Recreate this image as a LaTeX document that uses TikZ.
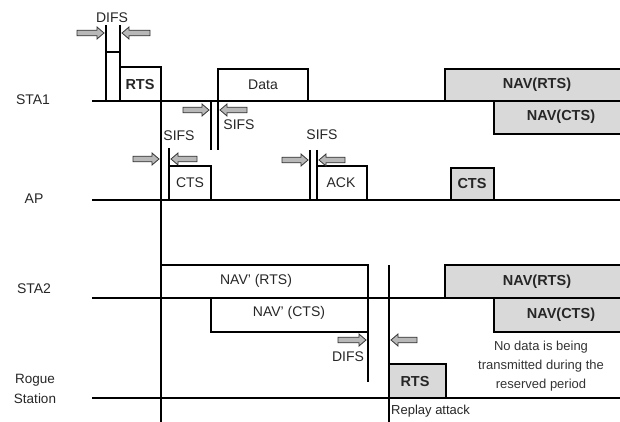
\documentclass[tikz,border=0pt]{standalone}
\usepackage{fontspec}
\setmainfont{Liberation Sans}
\begin{document}
\begin{tikzpicture}[x=1pt,y=-1pt,
  tl/.style={line width=1.6pt},
  vl/.style={line width=1.3pt},
  box/.style={draw, line width=1.3pt, anchor=north west, inner sep=0pt, outer sep=0pt},
  gbox/.style={box, fill=navgray},
  lbl/.style={font=\fontsize{14}{14}\selectfont, text=black!85, inner sep=0pt},
  blbl/.style={font=\fontsize{14.5}{14.5}\selectfont\bfseries, text=black!85, inner sep=0pt},
  small/.style={font=\fontsize{13}{19}\selectfont, text=black!80, inner sep=0pt, align=center},
]
\definecolor{navgray}{HTML}{D9D9D9}
\definecolor{arrgray}{HTML}{B8B8B8}
\newcommand{\blkarr}[3]{%
  \pgfmathsetmacro\dd{(#2>#1)?1:-1}%
  \filldraw[fill=arrgray, draw=black!80, line width=0.8pt]
    (#1,#3-2.8) -- ({#2-\dd*7},#3-2.8) -- ({#2-\dd*7},#3-6) -- (#2,#3)
    -- ({#2-\dd*7},#3+6) -- ({#2-\dd*7},#3+2.8) -- (#1,#3+2.8) -- cycle;}
\useasboundingbox (0,0) rectangle (620,422);

% station labels
\node[lbl] (sta1) at (33,100) {STA1};
\node[lbl] (ap) at (34,199) {AP};
\node[lbl] (sta2) at (34,289) {STA2};
\node[lbl, align=center, font=\fontsize{13.5}{20}\selectfont] (rogue) at (35,389) {Rogue\\Station};

% gray NAV boxes (drawn first, timelines on top)
\node[gbox, minimum width=180pt, minimum height=32pt] (nr1) at (445,69) {};
\node[blbl] at (537,85) {NAV(RTS)};
\node[gbox, minimum width=130pt, minimum height=33pt] (nc1) at (494,101) {};
\node[blbl] at (561,117) {NAV(CTS)};
\node[gbox, minimum width=180pt, minimum height=33pt] (nr2) at (445,265) {};
\node[blbl] at (537,282) {NAV(RTS)};
\node[gbox, minimum width=130pt, minimum height=34pt] (nc2) at (494,298) {};
\node[blbl] at (561,315) {NAV(CTS)};

% white boxes
\node[box, minimum width=41pt, minimum height=34pt] (rts1) at (120,67) {};
\node[blbl] at (140,85) {RTS};
\node[box, minimum width=90pt, minimum height=32pt] (data) at (218,69) {};
\node[lbl] at (263,85) {Data};
\node[box, minimum width=42pt, minimum height=34pt] (cts1) at (169,166) {};
\node[lbl] at (190,183) {CTS};
\node[box, minimum width=50pt, minimum height=34pt] (ack) at (317,166) {};
\node[lbl] at (341,183) {ACK};
\node[gbox, minimum width=43pt, minimum height=32pt] (cts2) at (451,168) {};
\node[blbl] at (472,184) {CTS};
\node[box, minimum width=207pt, minimum height=33pt] (navr) at (161,265) {};
\node[lbl] at (256,281) {NAV' (RTS)};
\node[box, minimum width=157pt, minimum height=34pt] (navc) at (211,298) {};
\node[lbl] at (289,313) {NAV' (CTS)};
\node[gbox, minimum width=57pt, minimum height=34pt] (rts2) at (389,364) {};
\node[blbl] at (415,382) {RTS};

% timelines
\coordinate (l1a) at (92,101); \coordinate (l1b) at (620,101);
\coordinate (l2a) at (92,200); \coordinate (l2b) at (620,200);
\coordinate (l3a) at (92,298); \coordinate (l3b) at (620,298);
\coordinate (l4a) at (92,398); \coordinate (l4b) at (620,398);
\draw[tl] (l1a) -- (l1b);
\draw[tl] (l2a) -- (l2b);
\draw[tl] (l3a) -- (l3b);
\draw[tl] (l4a) -- (l4b);

% vertical marker lines
\draw[vl] (106,25) -- (106,101);
\draw[vl] (120,25) -- (120,101);
\draw[vl] (106,52) -- (120,52);
\draw[vl] (161,67) -- (161,422);
\draw[vl] (211,101) -- (211,150);
\draw[vl] (218,101) -- (218,150);
\draw[vl] (169,148) -- (169,166);
\draw[vl] (310,150) -- (310,200);
\draw[vl] (317,150) -- (317,166);
\draw[vl] (368,298) -- (368,382);
\draw[vl] (389,265) -- (389,422);

% interval arrows
\blkarr{77}{104}{33}
\blkarr{150}{122}{33}
\blkarr{183}{209}{110}
\blkarr{247}{220}{110}
\blkarr{133}{159}{159}
\blkarr{197}{171}{159}
\blkarr{282}{308}{160}
\blkarr{345}{319}{160}
\blkarr{338}{366}{340}
\blkarr{417}{391}{340}

% interval labels
\node[lbl] (difs1) at (112,18) {DIFS};
\node[lbl] (sifs1) at (179,136) {SIFS};
\node[lbl] (sifs2) at (239,125) {SIFS};
\node[lbl] (sifs3) at (322,135) {SIFS};
\node[lbl] (difs2) at (348,357) {DIFS};

% notes
\node[small] (note) at (541,366) {No data is being\\transmitted during the\\reserved period};
\node[lbl, anchor=west, font=\fontsize{13}{13}\selectfont] (replay) at (391,411) {Replay attack};
\end{tikzpicture}
\end{document}
